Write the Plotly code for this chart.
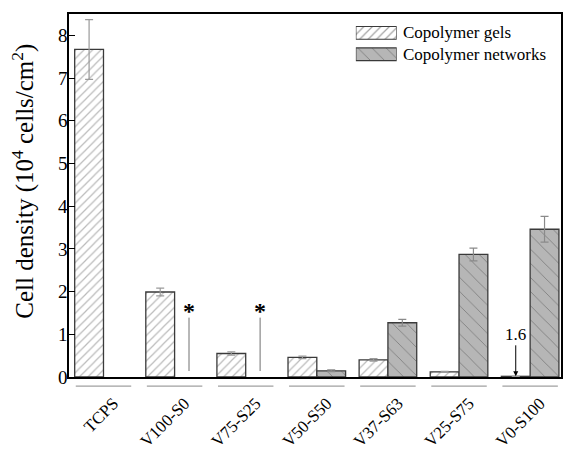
import plotly.graph_objects as go

# Cell density per substrate (10^4 cells/cm^2)
categories = ["TCPS", "V100-S0", "V75-S25", "V50-S50", "V37-S63", "V25-S75", "V0-S100"]
gels_mean = [7.67, 1.99, 0.55, 0.46, 0.40, 0.12, 0.016]
gels_err = [0.70, 0.09, 0.04, 0.03, 0.03, 0.01, 0.0]
networks_mean = [None, None, None, 0.145, 1.27, 2.87, 3.46]
networks_err = [0, 0, 0, 0.02, 0.08, 0.15, 0.30]

# categories without cell attachment on networks (marked with *)
sig_index = [1, 2]
sig_line_low = [0.14, 0.14]
sig_line_high = [1.39, 1.39]
sig_star_y = [1.55, 1.55]

# value label for the gel bar on V0-S100 (in 10^2 cells/cm^2)
note_index = 6
note_text = "1.6"

y_title = "Cell density (10<sup>4</sup> cells/cm<sup>2</sup>)"

FONT = "Liberation Serif"
GROUP = 0.81
HALF = GROUP / 4  # centre offset of each bar within a group
xs = list(range(len(categories)))

GEL_PAT = dict(shape="/", fgcolor="#767676", size=6, solidity=0.2)
NET_PAT = dict(shape="\\", fgcolor="#4a4a4a", size=10, solidity=0.09)

fig = go.Figure()

fig.add_trace(go.Bar(
    x=xs, y=gels_mean, name="Copolymer gels",
    marker=dict(color="white", line=dict(color="#3a3a3a", width=1.3),
                pattern=dict(bgcolor="white", **GEL_PAT)),
    error_y=dict(type="data", array=gels_err, color="#9a9a9a",
                 thickness=1.2, width=4),
    showlegend=False,
))
fig.add_trace(go.Bar(
    x=xs, y=networks_mean, name="Copolymer networks",
    marker=dict(color="#b6b6b6", line=dict(color="#3a3a3a", width=1.3),
                pattern=dict(bgcolor="#b6b6b6", **NET_PAT)),
    error_y=dict(type="data", array=networks_err, color="#8a8a8a",
                 thickness=1.2, width=4),
    showlegend=False,
))

# vertical markers with asterisks
for i, lo, hi, sy in zip(sig_index, sig_line_low, sig_line_high, sig_star_y):
    fig.add_trace(go.Scatter(
        x=[i + HALF, i + HALF], y=[lo, hi], mode="lines",
        line=dict(color="#707070", width=1), showlegend=False, hoverinfo="skip",
    ))
    fig.add_annotation(x=i + HALF, y=sy, text="<b>*</b>", showarrow=False,
                       font=dict(family=FONT, size=24, color="black"),
                       yanchor="middle")

fig.add_annotation(
    x=note_index - HALF, y=gels_mean[note_index], text=note_text,
    showarrow=True, arrowhead=2, arrowsize=1, arrowwidth=1, arrowcolor="black",
    ax=0, ay=-42, standoff=0,
    font=dict(family=FONT, size=17, color="black"),
)

# gray separator line under each category group
for i in xs:
    fig.add_shape(type="line", xref="x", yref="paper",
                  x0=i - 0.39, x1=i + 0.39, y0=-0.025, y1=-0.025,
                  line=dict(color="#a0a0a0", width=1.2))

# legend: patterned swatches on a small inset axis
legend_names = ["Copolymer gels", "Copolymer networks"]
legend_pos = [0.948, 0.889]
fig.add_trace(go.Bar(
    x=[1, 1], y=legend_pos, orientation="h", width=[0.035, 0.035],
    xaxis="x2", yaxis="y2",
    marker=dict(color=["white", "#b6b6b6"],
                line=dict(color="#3a3a3a", width=1.2),
                pattern=dict(shape=["/", "\\"],
                             fgcolor=[GEL_PAT["fgcolor"], NET_PAT["fgcolor"]],
                             size=[6, 10],
                             solidity=[GEL_PAT["solidity"], NET_PAT["solidity"]])),
    showlegend=False, hoverinfo="skip",
))
for name, yp in zip(legend_names, legend_pos):
    fig.add_annotation(xref="paper", yref="paper", x=0.674, y=yp, text=name,
                       showarrow=False, xanchor="left", yanchor="middle",
                       font=dict(family=FONT, size=17, color="black"))

# y-axis title
fig.add_annotation(xref="paper", yref="paper", x=-0.092, y=0.54, text=y_title,
                   textangle=-90, showarrow=False, xanchor="center",
                   yanchor="middle",
                   font=dict(family=FONT, size=25, color="black"))

fig.update_layout(
    width=565, height=453,
    margin=dict(l=69, r=2, t=14, b=71),
    paper_bgcolor="white", plot_bgcolor="white",
    barmode="group", bargap=1 - GROUP, bargroupgap=0,
    font=dict(family=FONT, color="black"),
    xaxis=dict(
        range=[-0.485, 6.434], tickvals=xs, ticktext=categories,
        tickangle=-45, tickfont=dict(family=FONT, size=17, color="black"),
        ticks="", showgrid=False, zeroline=False,
        showline=True, linecolor="black", linewidth=1.5, mirror=True,
        ticklabelstandoff=8, ticklabelshift=10,
    ),
    yaxis=dict(
        range=[0, 8.5], dtick=1, ticks="inside", ticklen=6, tickwidth=1.2,
        tickcolor="black",
        tickfont=dict(family=FONT, size=19, color="black"),
        ticklabelstandoff=-4,
        showgrid=False, zeroline=False,
        showline=True, linecolor="black", linewidth=1.5, mirror=True,
    ),
    xaxis2=dict(domain=[0.583, 0.666], range=[0, 1], anchor="y2",
                visible=False, fixedrange=True),
    yaxis2=dict(domain=[0.85, 0.99], range=[0.85, 0.99], anchor="x2",
                visible=False, fixedrange=True),
)

fig.write_html("out.html")
